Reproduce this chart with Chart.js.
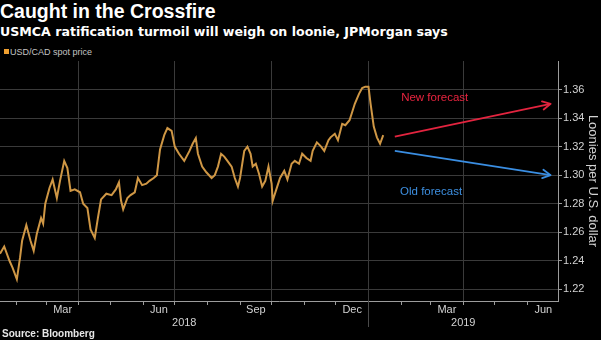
<!DOCTYPE html>
<html>
<head>
<meta charset="utf-8">
<script src="https://cdn.jsdelivr.net/npm/chart.js@4.4.1/dist/chart.umd.min.js"></script>
<style>
  html, body { margin: 0; padding: 0; background: #000; }
  body { width: 601px; height: 340px; position: relative; overflow: hidden; }
  #title { position: absolute; left: 0; top: 1px; font: bold 19.5px/20px "Liberation Sans", Arial, sans-serif; color: #fff; white-space: nowrap; }
  #subtitle { position: absolute; left: 0; top: 24px; font: bold 12.6px/15px "DejaVu Sans", sans-serif; color: #fff; white-space: nowrap; }
  #legendBox { position: absolute; left: 4px; top: 49px; width: 5px; height: 5px; background: #f0a030; }
  #legendText { position: absolute; left: 10px; top: 47px; font: 9px/10px "Liberation Sans", Arial, sans-serif; color: #c4c4c4; white-space: nowrap; }
  #source { position: absolute; left: 2px; top: 328px; font: bold 10px/11px "Liberation Sans", Arial, sans-serif; color: #e6e6e6; white-space: nowrap; }
  #chart { position: absolute; left: 0; top: 61px; }
</style>
</head>
<body>
<div id="title">Caught in the Crossfire</div>
<div id="subtitle">USMCA ratification turmoil will weigh on loonie, JPMorgan says</div>
<div id="legendBox"></div>
<div id="legendText">USD/CAD spot price</div>
<canvas id="chart" width="601" height="279"></canvas>
<div id="source">Source: Bloomberg</div>
<script>
// USD/CAD spot
const spotDates = [
  '2018-01-16', '2018-01-20', '2018-01-25', '2018-01-28', '2018-02-01', '2018-02-04', '2018-02-06',
  '2018-02-10', '2018-02-14', '2018-02-17', '2018-02-20', '2018-02-24', '2018-02-26', '2018-02-28',
  '2018-03-04', '2018-03-07', '2018-03-11', '2018-03-14', '2018-03-18', '2018-03-21', '2018-03-24',
  '2018-03-28', '2018-04-02', '2018-04-05', '2018-04-09', '2018-04-12', '2018-04-16', '2018-04-19',
  '2018-04-22', '2018-04-27', '2018-05-02', '2018-05-06', '2018-05-09', '2018-05-11', '2018-05-13',
  '2018-05-17', '2018-05-20', '2018-05-24', '2018-05-27', '2018-05-31', '2018-06-04', '2018-06-07',
  '2018-06-11', '2018-06-14', '2018-06-17', '2018-06-21', '2018-06-24', '2018-06-28', '2018-07-01',
  '2018-07-05', '2018-07-10', '2018-07-15', '2018-07-18', '2018-07-21', '2018-07-23', '2018-07-27',
  '2018-07-31', '2018-08-05', '2018-08-08', '2018-08-11', '2018-08-14', '2018-08-17', '2018-08-20',
  '2018-08-24', '2018-08-27', '2018-08-30', '2018-09-01', '2018-09-05', '2018-09-08', '2018-09-11',
  '2018-09-13', '2018-09-16', '2018-09-19', '2018-09-22', '2018-09-25', '2018-09-28', '2018-10-01',
  '2018-10-02', '2018-10-05', '2018-10-09', '2018-10-13', '2018-10-16', '2018-10-20', '2018-10-23',
  '2018-10-27', '2018-10-30', '2018-11-03', '2018-11-07', '2018-11-09', '2018-11-13', '2018-11-17',
  '2018-11-20', '2018-11-24', '2018-11-26', '2018-11-30', '2018-12-03', '2018-12-07', '2018-12-10',
  '2018-12-14', '2018-12-16', '2018-12-19', '2018-12-23', '2018-12-26', '2018-12-29', '2019-01-01',
  '2019-01-03', '2019-01-06', '2019-01-09', '2019-01-12', '2019-01-15'
];
const spotValues = [
  1.245, 1.250, 1.240, 1.235, 1.227, 1.242, 1.254,
  1.265, 1.254, 1.247, 1.259, 1.270, 1.266, 1.280,
  1.291, 1.297, 1.284, 1.296, 1.310, 1.305, 1.289,
  1.290, 1.288, 1.280, 1.277, 1.262, 1.256, 1.270,
  1.283, 1.287, 1.286, 1.290, 1.295, 1.282, 1.276,
  1.284, 1.286, 1.288, 1.298, 1.293, 1.294, 1.296,
  1.298, 1.300, 1.318, 1.328, 1.333, 1.331, 1.320,
  1.315, 1.310, 1.317, 1.322, 1.326, 1.315, 1.306,
  1.302, 1.298, 1.300, 1.306, 1.315, 1.313, 1.310,
  1.306, 1.298, 1.292, 1.298, 1.317, 1.320, 1.315,
  1.306, 1.308, 1.301, 1.292, 1.296, 1.306, 1.294,
  1.282, 1.289, 1.298, 1.303, 1.297, 1.308, 1.310,
  1.308, 1.315, 1.312, 1.310, 1.317, 1.323, 1.320,
  1.317, 1.3245, 1.3265, 1.329, 1.3245, 1.336, 1.335,
  1.3385, 1.343, 1.350, 1.357, 1.361, 1.362, 1.362,
  1.350, 1.334, 1.3265, 1.322, 1.328
];

// forecast arrows
const forecastDates = ['2019-01-26', '2019-06-23'];
const newForecast = [1.327, 1.350];
const oldForecast = [1.317, 1.300];

// axes
const yTicks = [1.22, 1.24, 1.26, 1.28, 1.30, 1.32, 1.34, 1.36];
const monthTicks = [
  '2018-02-01', '2018-03-01', '2018-04-01', '2018-05-01', '2018-06-01', '2018-07-01',
  '2018-08-01', '2018-09-01', '2018-10-01', '2018-11-01', '2018-12-01', '2019-01-01',
  '2019-02-01', '2019-03-01', '2019-04-01', '2019-05-01', '2019-06-01'
];
const quarterLines = ['2018-04-01', '2018-07-01', '2018-10-01', '2019-01-01', '2019-04-01'];
const monthLabels = ['Mar', 'Jun', 'Sep', 'Dec', 'Mar', 'Jun'];
const monthLabelStarts = ['2018-03-01', '2018-06-01', '2018-09-01', '2018-12-01', '2019-03-01', '2019-06-01'];
const monthLabelEnds = ['2018-04-01', '2018-07-01', '2018-10-01', '2019-01-01', '2019-04-01', '2019-07-01'];
const yearLabels = ['2018', '2019'];
const yearBreak = '2019-01-01';
const xStart = '2018-01-16';
const xEnd = '2019-06-30';

const DAY = 86400000;
const BASE = Date.UTC(2018, 0, 1);
function dayOf(s) {
  const [y, m, d] = s.split('-').map(Number);
  return (Date.UTC(y, m - 1, d) - BASE) / DAY;
}

const gridColor = '#3a3a3a';
const axisColor = '#9c9c9c';
const textColor = '#d2d2d2';
const FONT = '"Liberation Sans", Arial, sans-serif';

const quarterSet = new Set(quarterLines.map(dayOf));

const spot = spotDates.map((d, i) => ({ x: dayOf(d), y: spotValues[i] }));
const newF = forecastDates.map((d, i) => ({ x: dayOf(d), y: newForecast[i] }));
const oldF = forecastDates.map((d, i) => ({ x: dayOf(d), y: oldForecast[i] }));

// month labels, year labels and the year divider under the x axis
const xAxisText = {
  id: 'xAxisText',
  afterDraw(chart) {
    const { ctx, chartArea } = chart;
    const x = chart.scales.x;
    const b = chartArea.bottom;
    const xb = Math.round(x.getPixelForValue(dayOf(yearBreak))) + 0.5;
    ctx.save();
    ctx.strokeStyle = '#4a4a4a';
    ctx.lineWidth = 1;
    ctx.beginPath();
    ctx.moveTo(xb, b);
    ctx.lineTo(xb, b + 26);
    ctx.stroke();

    ctx.fillStyle = textColor;
    ctx.font = '11px ' + FONT;
    ctx.textAlign = 'center';
    ctx.textBaseline = 'alphabetic';
    monthLabels.forEach((lab, i) => {
      const mid = (dayOf(monthLabelStarts[i]) + dayOf(monthLabelEnds[i])) / 2;
      ctx.fillText(lab, x.getPixelForValue(mid), b + 12);
    });
    ctx.fillText(yearLabels[0], (chartArea.left + xb) / 2, b + 25);
    ctx.fillText(yearLabels[1], (xb + chartArea.right) / 2, b + 25);
    ctx.restore();
  }
};

// arrow heads on the forecast lines, plus their captions
const forecastMarks = {
  id: 'forecastMarks',
  afterDatasetsDraw(chart, args, opts) {
    const { ctx } = chart;
    chart.data.datasets.forEach((ds, i) => {
      if (!ds.arrow) return;
      const pts = chart.getDatasetMeta(i).data;
      const a = pts[pts.length - 2], b = pts[pts.length - 1];
      const ang = Math.atan2(b.y - a.y, b.x - a.x);
      const len = 9, spread = 0.48;
      ctx.save();
      ctx.strokeStyle = ds.borderColor;
      ctx.lineWidth = ds.borderWidth;
      ctx.lineCap = 'round';
      ctx.lineJoin = 'round';
      ctx.beginPath();
      ctx.moveTo(b.x - len * Math.cos(ang - spread), b.y - len * Math.sin(ang - spread));
      ctx.lineTo(b.x, b.y);
      ctx.lineTo(b.x - len * Math.cos(ang + spread), b.y - len * Math.sin(ang + spread));
      ctx.stroke();
      ctx.restore();
    });
    ctx.save();
    ctx.font = '11.5px ' + FONT;
    ctx.textAlign = 'left';
    ctx.textBaseline = 'alphabetic';
    opts.notes.forEach(n => {
      ctx.fillStyle = n.color;
      ctx.fillText(n.text, chart.scales.x.getPixelForValue(dayOf(n.date)), chart.scales.y.getPixelForValue(n.value));
    });
    ctx.restore();
  }
};

new Chart(document.getElementById('chart'), {
  type: 'line',
  data: {
    datasets: [
      {
        label: 'USD/CAD spot price',
        data: spot,
        borderColor: '#cf9745',
        backgroundColor: '#f0a030',
        borderWidth: 2,
        pointRadius: 0,
        tension: 0
      },
      {
        label: 'New forecast',
        data: newF,
        borderColor: '#e3243f',
        borderWidth: 1.8,
        pointRadius: 0,
        arrow: true
      },
      {
        label: 'Old forecast',
        data: oldF,
        borderColor: '#3a8ee2',
        borderWidth: 1.8,
        pointRadius: 0,
        arrow: true
      }
    ]
  },
  options: {
    responsive: false,
    animation: false,
    layout: { padding: { top: 0, left: 0, right: 0, bottom: 12 } },
    plugins: {
      legend: { display: false },
      tooltip: { enabled: false },
      forecastMarks: {
        notes: [
          { text: 'New forecast', date: '2019-02-01', value: 1.352, color: '#e8243f' },
          { text: 'Old forecast', date: '2019-01-31', value: 1.2858, color: '#3d8fe0' }
        ]
      }
    },
    scales: {
      x: {
        type: 'linear',
        min: dayOf(xStart),
        max: dayOf(xEnd),
        afterBuildTicks: s => { s.ticks = monthTicks.map(t => ({ value: dayOf(t) })); },
        afterFit: s => { s.height = 27; s.paddingLeft = 0; s.paddingRight = 0; },
        ticks: { display: false },
        grid: {
          color: c => (c.tick && quarterSet.has(c.tick.value)) ? gridColor : 'rgba(0,0,0,0)',
          tickColor: axisColor,
          tickLength: 4,
          drawTicks: true
        },
        border: { color: axisColor }
      },
      y: {
        position: 'right',
        min: 1.2118,
        max: 1.38,
        afterBuildTicks: s => { s.ticks = yTicks.map(v => ({ value: v })); },
        afterFit: s => { s.width = 43; s.paddingTop = 0; s.paddingBottom = 0; },
        ticks: {
          color: textColor,
          font: { family: FONT, size: 11 },
          padding: 1,
          callback: v => v.toFixed(2)
        },
        grid: { color: gridColor, tickColor: axisColor, tickLength: 4 },
        border: { color: axisColor },
        title: {
          display: true,
          text: 'Loonies per U.S. dollar',
          color: textColor,
          font: { family: FONT, size: 13 },
          padding: { top: 1, bottom: 0 }
        }
      }
    }
  },
  plugins: [xAxisText, forecastMarks]
});
</script>
</body>
</html>
